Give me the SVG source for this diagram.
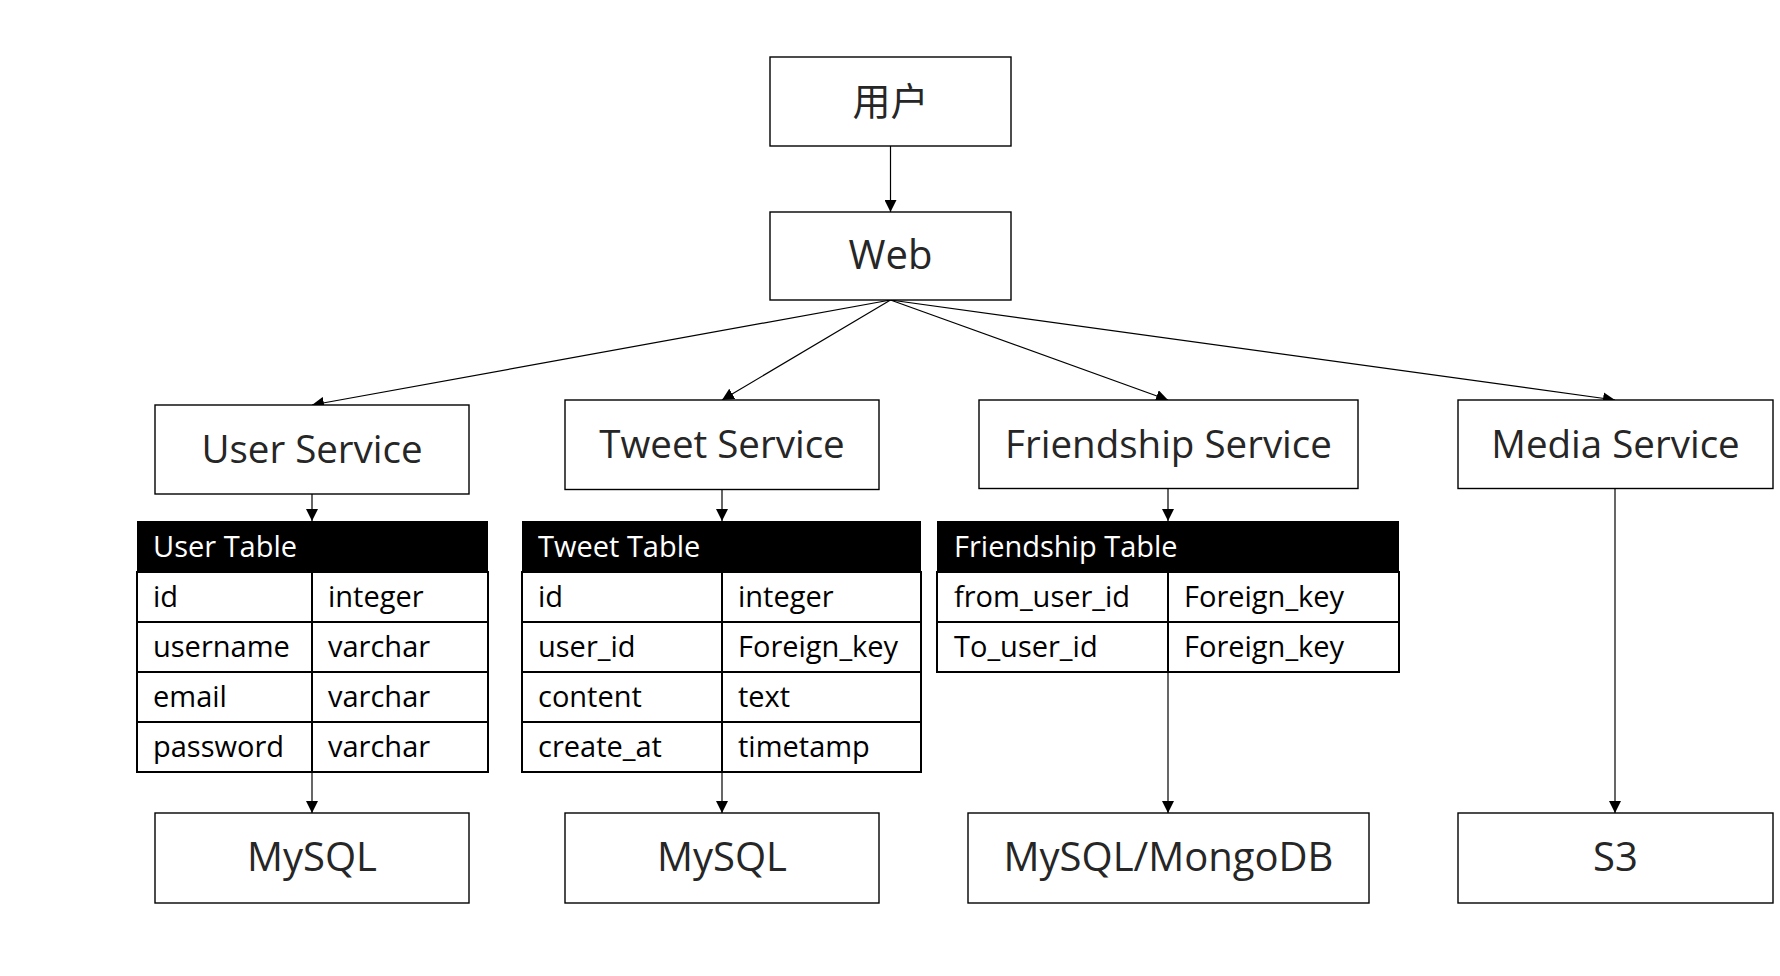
<svg xmlns="http://www.w3.org/2000/svg" width="1780" height="976" viewBox="0 0 1780 976">
<style>
.box{fill:#fff;stroke:#000;stroke-width:1.4}
.lbl{font-family:"Open Sans","Noto Sans CJK SC",sans-serif;fill:#262626;text-anchor:middle}
.svc{font-size:38.5px}
.db{font-size:40px}
.hdr{fill:#000}
.cell{fill:#fff;stroke:#000;stroke-width:2}
.th{font-family:"Open Sans",sans-serif;font-size:29px;fill:#fff}
.td{font-family:"Open Sans",sans-serif;font-size:29px;fill:#000}
.edge{stroke:#000;stroke-width:1.2;fill:none;marker-end:url(#ah)}
</style>
<defs>
<marker id="ah" markerUnits="userSpaceOnUse" markerWidth="12" markerHeight="12" viewBox="0 0 12 12" refX="12" refY="6" orient="auto">
<path d="M0,0 L12,6 L0,12 Z" fill="#000"/>
</marker>
</defs>
<rect width="1780" height="976" fill="#fff"/>

<g id="connectors">
<line class="edge" x1="890.5" y1="146" x2="890.5" y2="212"/>
<line class="edge" x1="890.5" y1="300" x2="312" y2="405"/>
<line class="edge" x1="890.5" y1="300" x2="722" y2="400"/>
<line class="edge" x1="890.5" y1="300" x2="1168" y2="400"/>
<line class="edge" x1="890.5" y1="300" x2="1615" y2="400"/>
<line class="edge" x1="312" y1="494" x2="312" y2="521"/>
<line class="edge" x1="722" y1="489.5" x2="722" y2="521"/>
<line class="edge" x1="1168" y1="488.5" x2="1168" y2="521"/>
<line class="edge" x1="312" y1="772" x2="312" y2="813"/>
<line class="edge" x1="722" y1="772" x2="722" y2="813"/>
<line class="edge" x1="1168" y1="672" x2="1168" y2="813"/>
<line class="edge" x1="1615" y1="488.5" x2="1615" y2="813"/>
</g>

<g id="user">
<rect class="box" x="770" y="57" width="241" height="89"/>
<text class="lbl" x="890.5" y="115" font-size="38">用户</text>
</g>
<g id="web">
<rect class="box" x="770" y="212" width="241" height="88"/>
<text class="lbl" x="890.5" y="269" font-size="40">Web</text>
</g>

<g id="user-service">
<rect class="box" x="155" y="405" width="314" height="89"/>
<text class="lbl svc" x="312" y="463">User Service</text>
</g>
<g id="tweet-service">
<rect class="box" x="565" y="400" width="314" height="89.5"/>
<text class="lbl svc" x="722" y="458">Tweet Service</text>
</g>
<g id="friendship-service">
<rect class="box" x="979" y="400" width="379" height="88.5"/>
<text class="lbl svc" x="1168.5" y="458">Friendship Service</text>
</g>
<g id="media-service">
<rect class="box" x="1458" y="400" width="315" height="88.5"/>
<text class="lbl svc" x="1615.5" y="458">Media Service</text>
</g>

<g id="user-table">
<rect class="hdr" x="137" y="521" width="351" height="51"/>
<rect class="cell" x="137" y="572" width="175" height="50"/>
<rect class="cell" x="312" y="572" width="176" height="50"/>
<rect class="cell" x="137" y="622" width="175" height="50"/>
<rect class="cell" x="312" y="622" width="176" height="50"/>
<rect class="cell" x="137" y="672" width="175" height="50"/>
<rect class="cell" x="312" y="672" width="176" height="50"/>
<rect class="cell" x="137" y="722" width="175" height="50"/>
<rect class="cell" x="312" y="722" width="176" height="50"/>
<text class="th" x="153" y="557">User Table</text>
<text class="td" x="153" y="607">id</text><text class="td" x="328" y="607">integer</text>
<text class="td" x="153" y="657">username</text><text class="td" x="328" y="657">varchar</text>
<text class="td" x="153" y="707">email</text><text class="td" x="328" y="707">varchar</text>
<text class="td" x="153" y="757">password</text><text class="td" x="328" y="757">varchar</text>
</g>

<g id="tweet-table">
<rect class="hdr" x="522" y="521" width="399" height="51"/>
<rect class="cell" x="522" y="572" width="200" height="50"/>
<rect class="cell" x="722" y="572" width="199" height="50"/>
<rect class="cell" x="522" y="622" width="200" height="50"/>
<rect class="cell" x="722" y="622" width="199" height="50"/>
<rect class="cell" x="522" y="672" width="200" height="50"/>
<rect class="cell" x="722" y="672" width="199" height="50"/>
<rect class="cell" x="522" y="722" width="200" height="50"/>
<rect class="cell" x="722" y="722" width="199" height="50"/>
<text class="th" x="538" y="557">Tweet Table</text>
<text class="td" x="538" y="607">id</text><text class="td" x="738" y="607">integer</text>
<text class="td" x="538" y="657">user_id</text><text class="td" x="738" y="657">Foreign_key</text>
<text class="td" x="538" y="707">content</text><text class="td" x="738" y="707">text</text>
<text class="td" x="538" y="757">create_at</text><text class="td" x="738" y="757">timetamp</text>
</g>

<g id="friendship-table">
<rect class="hdr" x="937" y="521" width="462" height="51"/>
<rect class="cell" x="937" y="572" width="231" height="50"/>
<rect class="cell" x="1168" y="572" width="231" height="50"/>
<rect class="cell" x="937" y="622" width="231" height="50"/>
<rect class="cell" x="1168" y="622" width="231" height="50"/>
<text class="th" x="954" y="557">Friendship Table</text>
<text class="td" x="954" y="607">from_user_id</text><text class="td" x="1184" y="607">Foreign_key</text>
<text class="td" x="954" y="657">To_user_id</text><text class="td" x="1184" y="657">Foreign_key</text>
</g>

<g id="mysql-user">
<rect class="box" x="155" y="813" width="314" height="90"/>
<text class="lbl db" x="312" y="871">MySQL</text>
</g>
<g id="mysql-tweet">
<rect class="box" x="565" y="813" width="314" height="90"/>
<text class="lbl db" x="722" y="871">MySQL</text>
</g>
<g id="mysql-mongodb">
<rect class="box" x="968" y="813" width="401" height="90"/>
<text class="lbl db" x="1168.5" y="871">MySQL/MongoDB</text>
</g>
<g id="s3">
<rect class="box" x="1458" y="813" width="315" height="90"/>
<text class="lbl db" x="1615.5" y="871">S3</text>
</g>
</svg>
